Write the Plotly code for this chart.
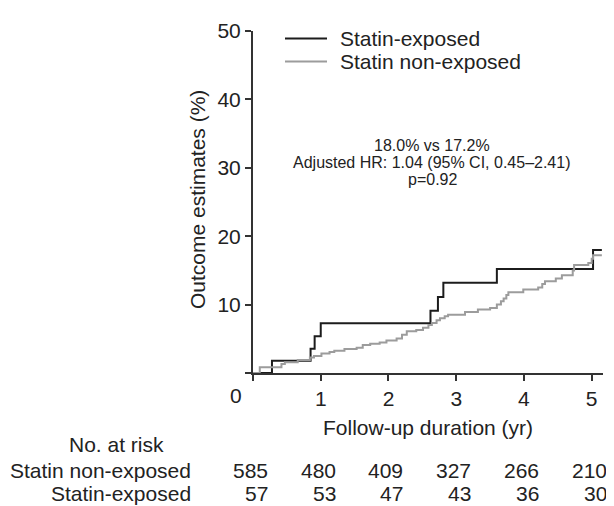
import plotly.graph_objects as go

# ---------------- data ----------------
exposed_t = [0, 0.28, 0.85, 0.91, 1.00, 2.62, 2.73, 2.81, 3.60, 5.02, 5.15]
exposed_v = [0, 1.8, 3.55, 5.36, 7.26, 9.1, 11.1, 13.2, 15.2, 18.0, 18.0]

nonexp_t = [0, 0.10, 0.42, 0.47, 0.66, 0.84, 0.90, 1.01, 1.13, 1.20, 1.35, 1.53,
            1.62, 1.73, 1.87, 1.97, 2.12, 2.20, 2.27, 2.41, 2.51, 2.59, 2.64,
            2.71, 2.76, 2.83, 2.88, 3.13, 3.32, 3.50, 3.60, 3.66, 3.70, 3.74,
            3.77, 3.99, 4.21, 4.27, 4.31, 4.47, 4.56, 4.72, 4.74, 4.95, 5.00,
            5.02, 5.15]
nonexp_v = [0, 0.85, 1.33, 1.57, 1.9, 2.28, 2.5, 2.85, 3.08, 3.27, 3.5, 3.7,
            4.08, 4.27, 4.46, 4.74, 5.03, 5.6, 6.1, 6.3, 6.6, 7.0, 7.3,
            7.7, 8.0, 8.3, 8.5, 8.9, 9.3, 9.5, 10.0, 10.5, 10.9, 11.4,
            11.8, 12.2, 12.5, 13.0, 13.4, 13.8, 14.3, 15.0, 15.8, 16.1, 16.7,
            17.2, 17.2]

series_names = ["Statin-exposed", "Statin non-exposed"]
x_ticks = [0, 1, 2, 3, 4, 5]
y_ticks = [0, 10, 20, 30, 40, 50]

risk_times = [0, 1, 2, 3, 4, 5]
risk_nonexposed = [585, 480, 409, 327, 266, 210]
risk_exposed = [57, 53, 47, 43, 36, 30]

stats_lines = ["18.0% vs 17.2%", "Adjusted HR: 1.04 (95% CI, 0.45–2.41)", "p=0.92"]

# ---------------- styling / layout helpers ----------------
OFF = 8                      # page body margin in the browser
W, H = 614 - OFF, 506 - OFF
ML, MT = 253 - OFF, 21 - OFF
MR = W - (603 - OFF)
MB = H - (373 - OFF)
PW, PH = W - ML - MR, H - MT - MB
FONT = "Liberation Sans, Arial, Helvetica, sans-serif"
FS = 21
TXT = "#222222"
BLACK = "#1c1c1c"
GRAY = "#9c9c9c"


def px(x):
    """reference-page pixel x -> paper coordinate"""
    return (x - OFF - ML) / PW


def py(y):
    """reference-page pixel y -> paper coordinate"""
    return (H - MB - (y - OFF)) / PH


fig = go.Figure()
fig.add_trace(go.Scatter(x=exposed_t, y=exposed_v, mode="lines", name=series_names[0],
                         line=dict(color=BLACK, width=2, shape="hv"), showlegend=False))
fig.add_trace(go.Scatter(x=nonexp_t, y=nonexp_v, mode="lines", name=series_names[1],
                         line=dict(color=GRAY, width=2, shape="hv"), showlegend=False))

ann = []
shapes = []

# legend (manual)
for i, (name, col) in enumerate(zip(series_names, [BLACK, GRAY])):
    yy = 28.7 + i * 23.6
    shapes.append(dict(type="line", xref="paper", yref="paper",
                       x0=px(285), x1=px(327), y0=py(yy), y1=py(yy),
                       line=dict(color=col, width=2)))
    ann.append(dict(text=name, xref="paper", yref="paper", x=px(338), y=py(yy),
                    xanchor="left", yanchor="middle", showarrow=False,
                    font=dict(size=FS, color=TXT, family=FONT)))

# stats text
for i, s in enumerate(stats_lines):
    ann.append(dict(text=s, xref="paper", yref="paper", x=px(432), y=py(139.3 + i * 17.5),
                    xanchor="center", yanchor="middle", showarrow=False,
                    font=dict(size=16, color=TXT, family=FONT)))

# axis titles
ann.append(dict(text="Outcome estimates (%)", xref="paper", yref="paper", x=px(197), y=py(195),
                textangle=-90, xanchor="center", yanchor="middle", showarrow=False,
                font=dict(size=FS, color=TXT, family=FONT)))
ann.append(dict(text="Follow-up duration (yr)", xref="paper", yref="paper", x=px(427.5), y=py(429),
                xanchor="center", yanchor="middle", showarrow=False,
                font=dict(size=FS, color=TXT, family=FONT)))
ann.append(dict(text="0", xref="paper", yref="paper", x=px(236), y=py(396),
                xanchor="center", yanchor="middle", showarrow=False,
                font=dict(size=FS, color=TXT, family=FONT)))

# risk table
ann.append(dict(text="No. at risk", xref="paper", yref="paper", x=px(116), y=py(447),
                xanchor="center", yanchor="middle", showarrow=False,
                font=dict(size=FS, color=TXT, family=FONT)))
for label, vals, yy in [("Statin non-exposed", risk_nonexposed, 473),
                        ("Statin-exposed", risk_exposed, 497)]:
    ann.append(dict(text=label, xref="paper", yref="paper", x=px(193), y=py(yy),
                    xanchor="right", yanchor="middle", showarrow=False,
                    font=dict(size=FS, color=TXT, family=FONT)))
    for t, v in zip(risk_times, vals):
        ann.append(dict(text=str(v), xref="x", yref="paper", x=t, y=py(yy), xshift=17,
                        xanchor="right", yanchor="middle", showarrow=False,
                        font=dict(size=FS, color=TXT, family=FONT)))

fig.update_layout(
    width=W, height=H,
    margin=dict(l=ML, r=MR, t=MT, b=MB),
    paper_bgcolor="white", plot_bgcolor="white",
    font=dict(family=FONT, size=FS, color=TXT),
    annotations=ann, shapes=shapes,
)
fig.update_xaxes(range=[0, PW / 67.74], tickvals=x_ticks,
                 ticktext=["" if v == 0 else str(v) for v in x_ticks],
                 showline=True, linecolor="#333333", linewidth=2,
                 ticks="outside", ticklen=6, tickwidth=2, tickcolor="#333333",
                 showgrid=False, zeroline=False, tickfont=dict(size=FS, color=TXT))
fig.update_yaxes(range=[0, 50], tickvals=y_ticks,
                 ticktext=["" if v == 0 else str(v) for v in y_ticks],
                 showline=True, linecolor="#333333", linewidth=2,
                 ticks="outside", ticklen=6, tickwidth=2, tickcolor="#333333",
                 showgrid=False, zeroline=False, tickfont=dict(size=FS, color=TXT))

fig.write_html("out.html")
